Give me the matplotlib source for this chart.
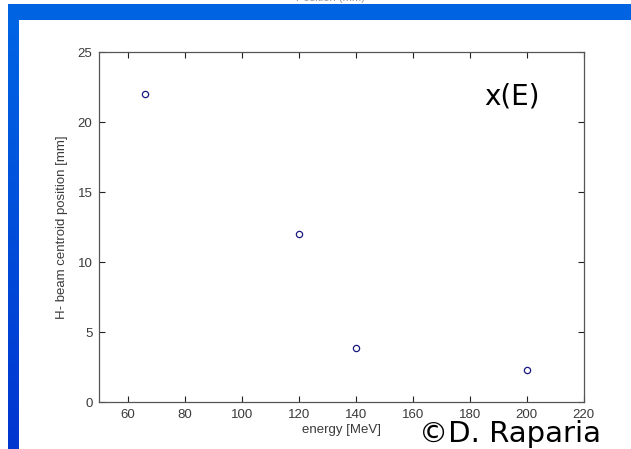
import numpy as np
import matplotlib.pyplot as plt
from matplotlib.patches import Rectangle
from matplotlib.colors import LinearSegmentedColormap

# beam centroid vs energy
energy = [66, 120, 140, 200]
centroid = [22, 12, 3.9, 2.3]
xticks = [60, 80, 100, 120, 140, 160, 180, 200, 220]
yticks = [0, 5, 10, 15, 20, 25]

W, H = 631, 449
fig = plt.figure(figsize=(W / 100, H / 100), dpi=100)
fig.patch.set_facecolor('white')

# slide decoration: blue bars on left and top
grad = fig.add_axes([8 / W, 0, 11 / W, 445 / H])
cmap = LinearSegmentedColormap.from_list('bl', ['#0036d0', '#0066e4'])
grad.imshow(np.linspace(0, 1, 100).reshape(-1, 1), aspect='auto', cmap=cmap, origin='lower')
grad.axis('off')
fig.patches.append(Rectangle((8 / W, 429 / H), 1 - 8 / W, 16 / H, transform=fig.transFigure,
                             facecolor='#0064e2', edgecolor='none'))
fig.text(330 / W, 446 / H, 'Position (mm)', ha='center', va='bottom', fontsize=8,
         color='#999999', family='Liberation Sans')

ax = fig.add_axes([99.5 / W, 46.7 / H, 484 / W, 350 / H])
ax.plot(energy, centroid, 'o', markerfacecolor='none', markeredgecolor='#1a1a80',
        markersize=4.5, markeredgewidth=0.9)
ax.set_xlim(50, 220)
ax.set_ylim(0, 25)
ax.set_xticks(xticks)
ax.set_yticks(yticks)
ax.tick_params(direction='in', top=True, right=True, length=4, width=0.8,
               labelsize=9.5, labelcolor='#3a3a3a', color='#222222', pad=5)
for lab in ax.get_xticklabels() + ax.get_yticklabels():
    lab.set_family('Liberation Sans')
for s in ax.spines.values():
    s.set_color('#555555')
    s.set_linewidth(0.9)
ax.set_xlabel('energy [MeV]', fontsize=9.5, color='#3a3a3a', family='Liberation Sans', labelpad=2)
ax.set_ylabel('H- beam centroid position [mm]', fontsize=9.5, color='#3a3a3a',
              family='Liberation Sans', labelpad=7)

fig.text(512 / W, (449 - 97) / H, 'x(E)', ha='center', va='center', fontsize=20, color='black')
fig.text(510 / W, (449 - 434) / H, '\u00a9D. Raparia', ha='center', va='center',
         fontsize=21, color='black')

fig.savefig('out.png', dpi=100)
